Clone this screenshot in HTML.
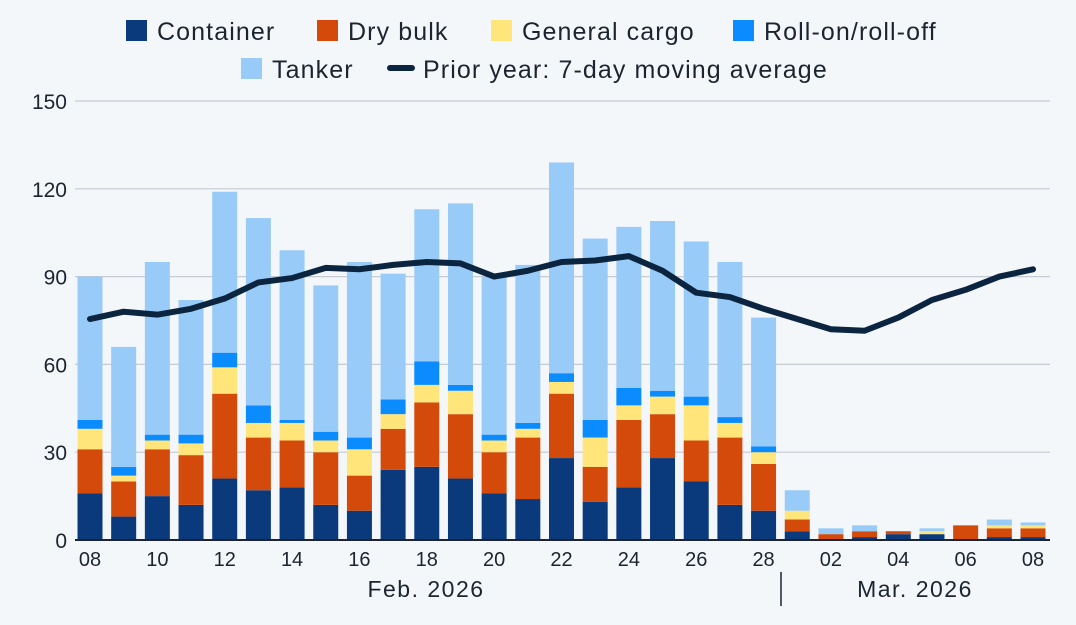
<!DOCTYPE html>
<html><head><meta charset="utf-8"><style>
body{margin:0;background:#f4f7fa;font-family:"Liberation Sans",sans-serif;}
svg text{font-family:"Liberation Sans",sans-serif;fill:#1c2430;}
</style></head><body>
<svg id="chart" width="1076" height="620" viewBox="0 0 1076 620" xmlns="http://www.w3.org/2000/svg">
<rect width="1076" height="620" fill="#f4f7fa"/>
<g id="legend" font-size="25" letter-spacing="1.1">
 <g><rect x="126" y="20" width="21" height="21" fill="#0a3a7c"/><text x="157" y="40">Container</text></g>
 <g><rect x="317" y="20" width="21" height="21" fill="#d34a0b"/><text x="348" y="40">Dry bulk</text></g>
 <g><rect x="491" y="20" width="21" height="21" fill="#ffe57a"/><text x="522" y="40">General cargo</text></g>
 <g><rect x="733" y="20" width="21" height="21" fill="#0a8cff"/><text x="764" y="40">Roll-on/roll-off</text></g>
 <g><rect x="241" y="58" width="21" height="21" fill="#99cbf8"/><text x="272" y="78">Tanker</text></g>
 <g><line x1="390" y1="68" x2="412" y2="68" stroke="#0b2540" stroke-width="6" stroke-linecap="round"/><text x="423" y="78">Prior year: 7-day moving average</text></g>
</g>
<g id="grid"></g><g id="bars"></g><g id="line"></g><g id="axes"></g>
<text x="426" y="597" text-anchor="middle" font-size="23" letter-spacing="1.5">Feb. 2026</text>
<text x="915" y="597" text-anchor="middle" font-size="23" letter-spacing="1.5">Mar. 2026</text>
<line x1="781" y1="572" x2="781" y2="606" stroke="#1c2430" stroke-width="1.5"/>
</svg>
<script>
const labels=["08","09","10","11","12","13","14","15","16","17","18","19","20","21","22","23","24","25","26","27","28","01","02","03","04","05","06","07","08"];
const container=[16,8,15,12,21,17,18,12,10,24,25,21,16,14,28,13,18,28,20,12,10,3,0,1,2,2,0,1,1];
const dryBulk=[15,12,16,17,29,18,16,18,12,14,22,22,14,21,22,12,23,15,14,23,16,4,2,2,1,0,5,3,3];
const general=[7,2,3,4,9,5,6,4,9,5,6,8,4,3,4,10,5,6,12,5,4,3,0,0,0,1,0,1,1];
const roro=[3,3,2,3,5,6,1,3,4,5,8,2,2,2,3,6,6,2,3,2,2,0,0,0,0,0,0,0,0];
const tanker=[49,41,59,46,55,64,58,50,60,43,52,62,54,54,72,62,55,58,53,53,44,7,2,2,0,1,0,2,1];
const priorYear=[75.5,78,77,79,82.5,88,89.5,93,92.5,94,95,94.5,90,92,95,95.5,97,92,84.5,83,79,75.5,72,71.5,76,82,85.5,90,92.5];
const yTicks=[0,30,60,90,120,150];
const NS="http://www.w3.org/2000/svg";
const x0=75,x1=1050,yBase=540,yTop=101;
const y=v=>yBase-(v/150)*(yBase-yTop);
const step=(1033-90)/(labels.length-1);
const x=i=>90+i*step;
const bw=25;
function mk(t,a,p){const e=document.createElementNS(NS,t);for(const k in a)e.setAttribute(k,a[k]);p.appendChild(e);return e;}
const grid=document.getElementById('grid');
yTicks.forEach(t=>{
 if(t>0){const l=mk('line',{x1:x0,x2:x1,y1:y(t),y2:y(t),stroke:'#c6cad3','stroke-width':1.2},grid);
 
 }
 const tx=mk('text',{x:67,y:y(t)+8,'text-anchor':'end','font-size':21},grid);tx.textContent=t;
 
 
});
const series=[["container",container,"#0a3a7c"],["dry-bulk",dryBulk,"#d34a0b"],["general-cargo",general,"#ffe57a"],["roro",roro,"#0a8cff"],["tanker",tanker,"#99cbf8"]];
const bars=document.getElementById('bars');
labels.forEach((lab,i)=>{
 let acc=0;
 series.forEach(([n,arr,c])=>{
  const v=arr[i];if(v<=0)return;
  const r=mk('rect',{x:x(i)-bw/2,y:y(acc+v),width:bw,height:y(acc)-y(acc+v),fill:c},bars);
  
  
  acc+=v;
 });
});
const pts=priorYear.map((v,i)=>x(i)+','+y(v)).join(' ');
const pl=mk('polyline',{points:pts,fill:'none',stroke:'#0b2540','stroke-width':6,'stroke-linejoin':'round','stroke-linecap':'round'},document.getElementById('line'));


const axes=document.getElementById('axes');
const ax=mk('line',{x1:x0,x2:x1,y1:yBase,y2:yBase,stroke:'#1c2430','stroke-width':2},axes);


labels.forEach((lab,i)=>{
 if(i%2)return;
 const t=mk('text',{x:x(i),y:566,'text-anchor':'middle','font-size':20},axes);t.textContent=lab;
 
 
});
</script>
</body></html>
